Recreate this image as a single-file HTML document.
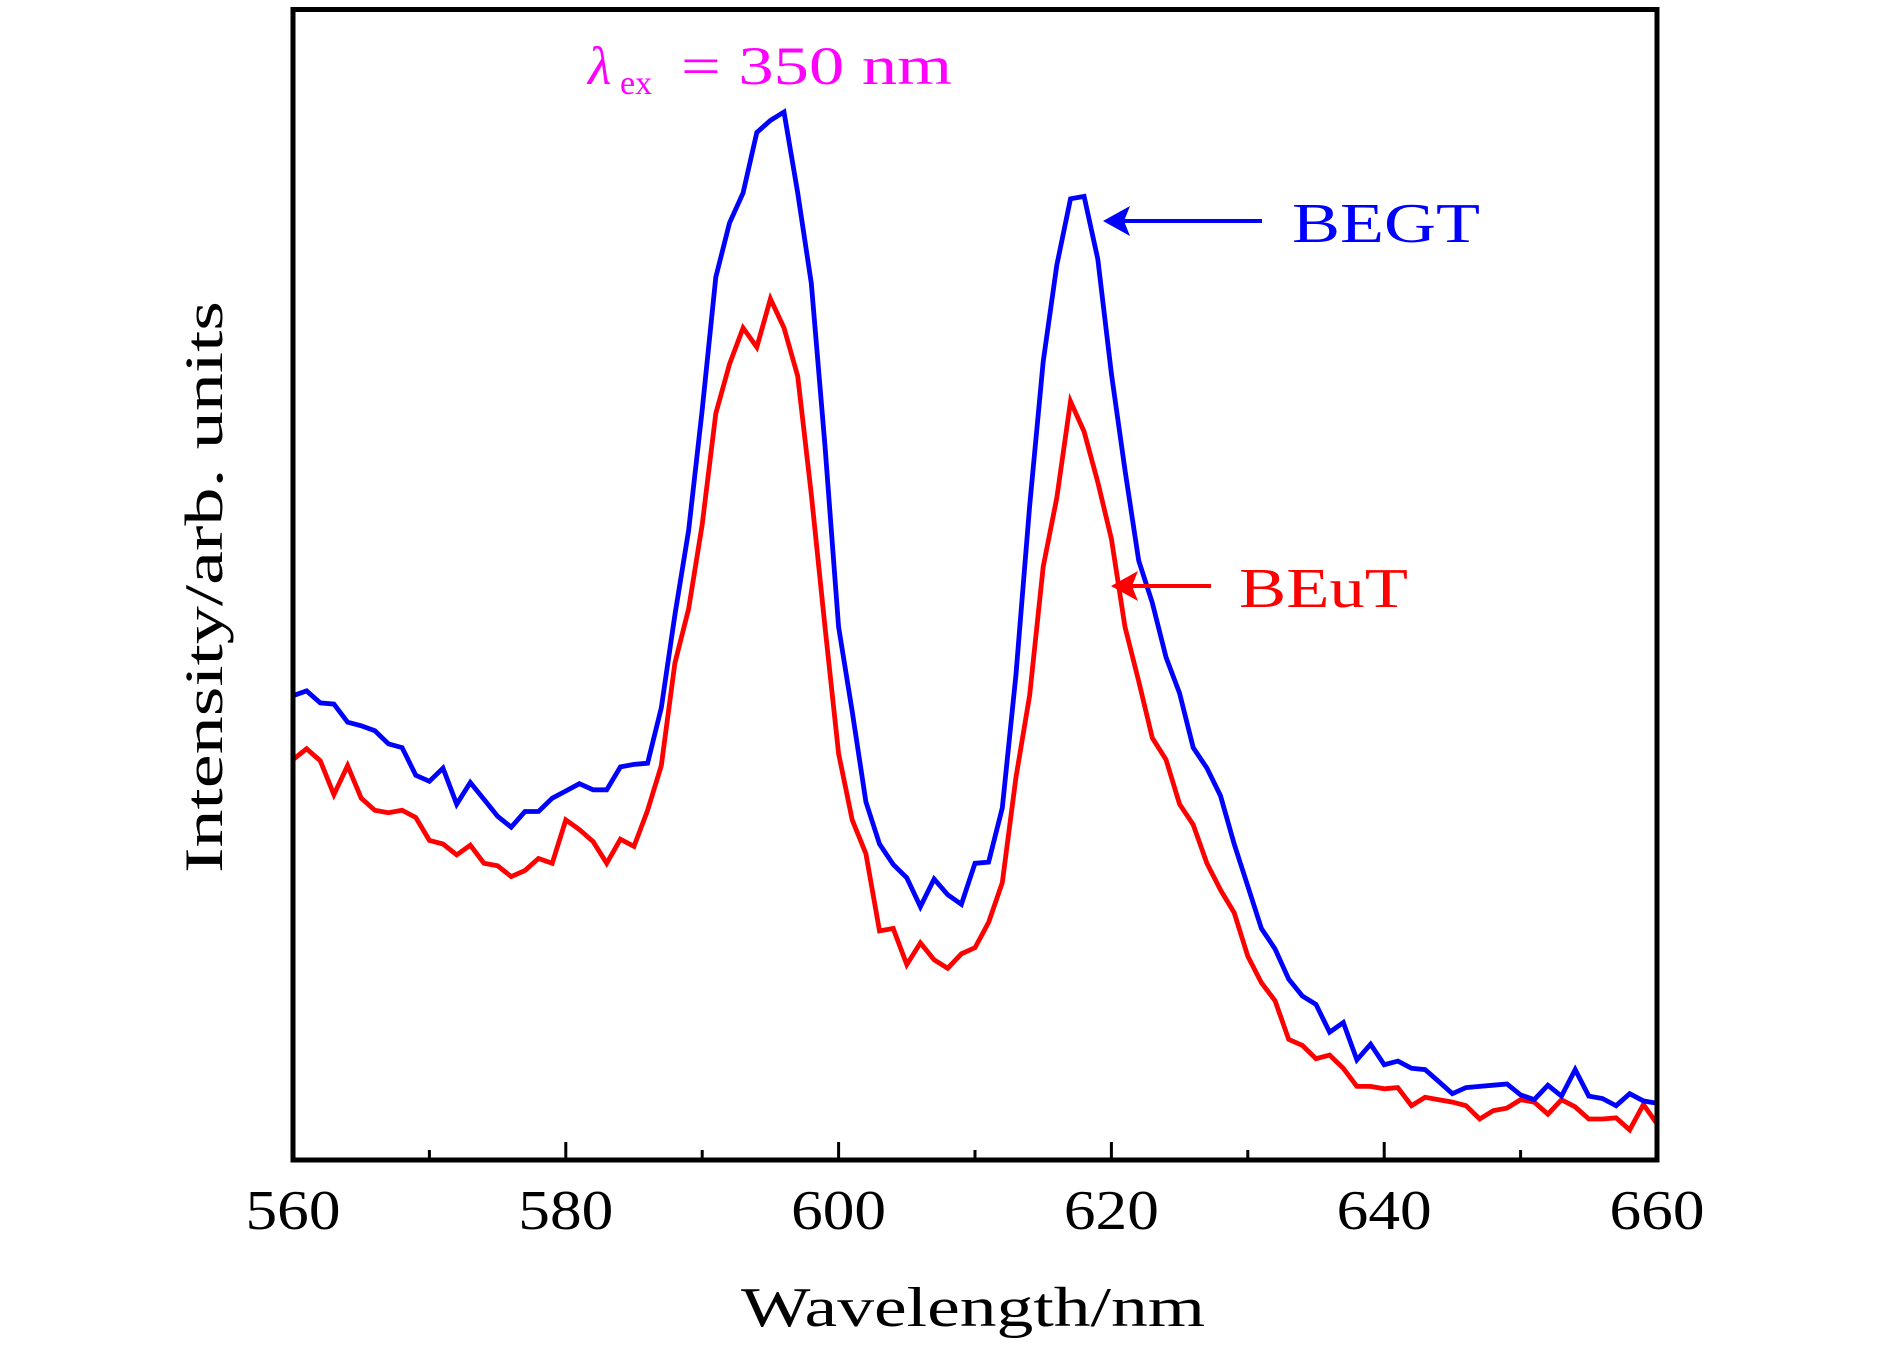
<!DOCTYPE html>
<html><head><meta charset="utf-8"><style>
html,body{margin:0;padding:0;background:#fff;}
svg{display:block;}
text{font-family:"Liberation Serif",serif;}
</style></head><body>
<svg id="chart" width="1890" height="1347" viewBox="0 0 1890 1347" xmlns="http://www.w3.org/2000/svg">
<g id="marks"></g>
<g id="axes"></g>
<text x="741" y="1326" font-size="56" textLength="464" lengthAdjust="spacingAndGlyphs">Wavelength/nm</text>
<text transform="translate(222,873) rotate(-90)" font-size="54" textLength="572" lengthAdjust="spacingAndGlyphs">Intensity/arb. units</text>
<g fill="#ff00ff">
<text x="588" y="84" font-size="54" font-style="italic">λ</text>
<text x="620" y="94" font-size="34">ex</text>
<text x="681" y="84" font-size="54" textLength="271" lengthAdjust="spacingAndGlyphs">= 350 nm</text>
</g>
<g>
<line x1="1262" y1="221" x2="1120" y2="221" stroke="#0000ff" stroke-width="4"/>
<polygon points="1103,221 1130,206 1124,221 1130,236" fill="#0000ff"/>
<text x="1292" y="242" font-size="56" fill="#0000ff" textLength="188" lengthAdjust="spacingAndGlyphs">BEGT</text>
</g>
<g>
<line x1="1211" y1="586" x2="1128" y2="586" stroke="#ff0000" stroke-width="4"/>
<polygon points="1111,586 1138,571 1132,586 1138,601" fill="#ff0000"/>
<text x="1239" y="607" font-size="56" fill="#ff0000" textLength="169" lengthAdjust="spacingAndGlyphs">BEuT</text>
</g>
</svg>
<script>
const wavelengths = [];
for (let w = 560; w <= 660; w++) wavelengths.push(w);
const begt = [385,389,379,378,363,360,356,345,342,319,314,325,295,313,299,285,276,289,289,300,306,312,307,307,326,328,329,375,452,522,622,732,777,802,852,862,869,802,727,592,442,372,297,262,245,234,210,233,220,212,246,247,292,402,542,662,742,797,799,747,652,572,497,462,417,387,342,325,302,262,227,192,175,150,136,129,106,114,83,96,79,82,76,75,65,55,60,61,62,63,54,50,62,53,75,53,51,45,55,49,47];
const beut = [332,341,331,303,327,300,290,288,290,284,265,262,253,261,246,244,235,240,250,246,282,274,264,246,266,260,290,327,412,457,527,619,660,690,674,714,690,650,552,442,337,282,254,190,192,162,180,166,159,171,176,197,230,317,385,492,549,629,604,562,515,442,397,350,332,295,278,246,224,205,169,147,132,100,95,84,87,76,61,61,59,60,45,52,50,48,45,34,41,43,50,48,38,50,44,34,34,35,25,46,30];
const majorTicks = [560,580,600,620,640,660];
const minorTicks = [570,590,610,630,650];

const X0=293, X1=1657, Y0=1160, Y1=9.5;
const xs = w => X0 + (w-560)/(660-560)*(X1-X0);
const ys = v => Y0 - v/954*(Y0-Y1);
const NS="http://www.w3.org/2000/svg";
const marks=document.getElementById('marks'), axes=document.getElementById('axes');

function series(vals, color, name){
  const p=document.createElementNS(NS,'polyline');
  p.setAttribute('points', vals.map((v,i)=>xs(wavelengths[i]).toFixed(1)+','+ys(v).toFixed(1)).join(' '));
  p.setAttribute('fill','none'); p.setAttribute('stroke',color);
  p.setAttribute('stroke-width','4.8'); p.setAttribute('stroke-linejoin','miter');
  
  
  p.setAttribute('clip-path','url(#clip)');
  marks.appendChild(p);
}
const defs=document.createElementNS(NS,'defs');
defs.innerHTML='<clipPath id="clip"><rect x="'+X0+'" y="'+Y1+'" width="'+(X1-X0)+'" height="'+(Y0-Y1)+'"/></clipPath>';
document.getElementById('chart').prepend(defs);
series(beut,'#ff0000','beut-series');
series(begt,'#0000ff','begt-series');

const frame=document.createElementNS(NS,'rect');
frame.setAttribute('x',X0);frame.setAttribute('y',Y1);
frame.setAttribute('width',X1-X0);frame.setAttribute('height',Y0-Y1);
frame.setAttribute('fill','none');frame.setAttribute('stroke','#000');frame.setAttribute('stroke-width','5');


axes.appendChild(frame);

function tick(w,len){
  const l=document.createElementNS(NS,'line');
  l.setAttribute('x1',xs(w));l.setAttribute('x2',xs(w));
  l.setAttribute('y1',Y0);l.setAttribute('y2',Y0-len);
  l.setAttribute('stroke','#000');l.setAttribute('stroke-width','3');
  
  
  axes.appendChild(l);
}
majorTicks.forEach(w=>{
  tick(w,18);
  const t=document.createElementNS(NS,'text');
  t.setAttribute('x',xs(w)-47.5);t.setAttribute('y',1229);
  t.setAttribute('font-size','56');
  t.setAttribute('textLength','95');t.setAttribute('lengthAdjust','spacingAndGlyphs');
  t.textContent=w;
  
  
  axes.appendChild(t);
});
minorTicks.forEach(w=>tick(w,10));
</script>
</body></html>
